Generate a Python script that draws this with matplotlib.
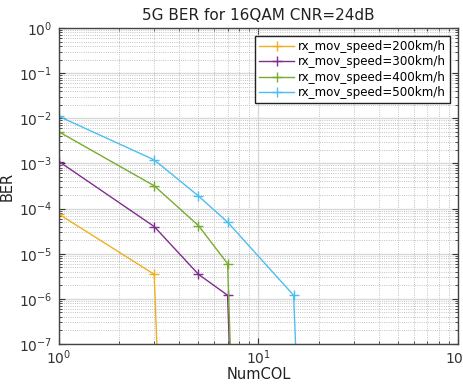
import matplotlib.pyplot as plt

# BER vs number of columns, one curve per receiver speed
# (last point of each curve is a near-zero BER, so the line runs off the bottom)
x_200 = [1, 3, 4]
ber_200 = [7.5e-5, 3.5e-6, 1e-20]
x_300 = [1, 3, 5, 7, 9]
ber_300 = [1.1e-3, 4.0e-5, 3.5e-6, 1.2e-6, 1e-20]
x_400 = [1, 3, 5, 7, 9]
ber_400 = [5.0e-3, 3.2e-4, 4.2e-5, 6.0e-6, 1e-20]
x_500 = [1, 3, 5, 7, 15, 20]
ber_500 = [1.1e-2, 1.2e-3, 1.9e-4, 5.0e-5, 1.2e-6, 1e-20]
labels = ['rx_mov_speed=200km/h', 'rx_mov_speed=300km/h',
          'rx_mov_speed=400km/h', 'rx_mov_speed=500km/h']
colors = ['#EDB120', '#7E2F8E', '#77AC30', '#4DBEEE']

fig = plt.figure(figsize=(4.64, 3.85), dpi=100)
ax = fig.add_axes([59/464, 1-344/385, 399/464, 316/385])

series = [(x_200, ber_200), (x_300, ber_300), (x_400, ber_400), (x_500, ber_500)]
for (xs, ys), lab, c in zip(series, labels, colors):
    ax.loglog(xs, ys, '-+', color=c, lw=1.0, ms=7, mew=1.0, label=lab)

ax.set_xlim(1, 100)
ax.set_ylim(1e-7, 1)
ax.grid(True, which='major', color='#d8d8d8', lw=1.0, ls='-')
ax.grid(True, which='minor', color='#b0b0b0', lw=0.6, ls=':')
ax.set_axisbelow(True)
ax.tick_params(which='both', direction='in', top=True, right=True,
               colors='#333333', labelsize=10)
ax.tick_params(axis='x', pad=3)
ax.tick_params(axis='y', pad=5)
ax.tick_params(which='major', length=4)
ax.tick_params(which='minor', length=2)
for s in ax.spines.values():
    s.set_color('#444444')
    s.set_linewidth(1.0)

ax.set_title('5G BER for 16QAM CNR=24dB', fontsize=11, color='#222222', pad=6)
ax.set_xlabel('NumCOL', fontsize=10.5, color='#222222', labelpad=0)
ax.set_ylabel('BER', fontsize=10.5, color='#222222', labelpad=3)

leg = ax.legend(loc='upper right', fontsize=8.6, fancybox=False, framealpha=1,
                edgecolor='#222222', handlelength=3.0, borderpad=0.3,
                labelspacing=0.2, handletextpad=0.3, borderaxespad=0.7)
leg.get_frame().set_linewidth(1.0)

fig.savefig('out.png', dpi=100)
